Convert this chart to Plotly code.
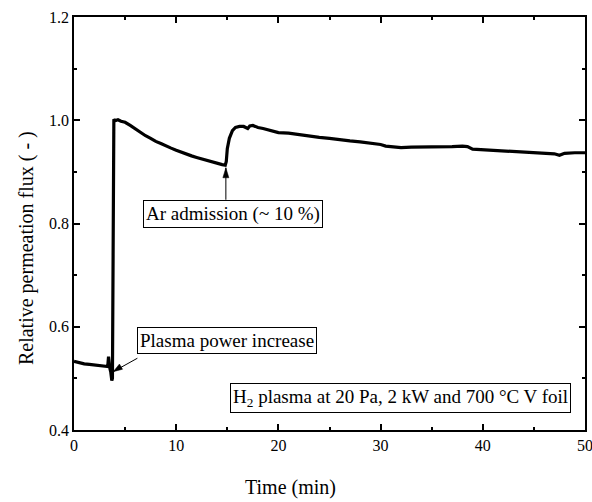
import plotly.graph_objects as go

# Data
time_min = [0, 0.5, 1, 1.5, 2, 2.5, 3, 3.3, 3.38, 3.42, 3.5, 3.6, 3.7, 3.76, 3.8, 3.84, 3.9, 4.0, 4.3, 4.6,
            5.0, 5.5, 6, 6.5, 7, 7.5, 8, 8.5, 9, 9.5, 10, 10.5, 11, 11.5, 12, 12.5, 13, 13.5, 14, 14.5,
            14.8, 14.9, 15.0, 15.2, 15.5, 15.8, 16.2, 16.6, 17.0, 17.2, 17.5, 18, 18.5, 19, 19.5, 20,
            21, 22, 23, 24, 25, 26, 27, 28, 29, 30, 30.5, 31, 32, 33, 34, 35, 36, 37, 38, 38.5,
            39, 40, 41, 42, 43, 44, 45, 46, 47, 47.5, 48, 49, 50]
rel_flux = [0.533, 0.530, 0.528, 0.527, 0.526, 0.525, 0.524, 0.523, 0.542, 0.522, 0.520, 0.512, 0.496, 0.500,
            0.750, 0.998, 1.002, 0.999, 1.001, 0.998,
            0.996, 0.990, 0.983, 0.977, 0.970, 0.965, 0.959, 0.955, 0.950, 0.946, 0.942, 0.938, 0.934,
            0.931, 0.928, 0.925, 0.922, 0.919, 0.917, 0.914,
            0.913, 0.920, 0.945, 0.965, 0.980, 0.986, 0.988, 0.988, 0.984, 0.989, 0.990, 0.986, 0.984,
            0.981, 0.978, 0.976,
            0.975, 0.972, 0.970, 0.967, 0.965, 0.962, 0.960, 0.958, 0.956, 0.953, 0.950, 0.949, 0.947,
            0.948, 0.948, 0.948, 0.949, 0.949, 0.950, 0.949,
            0.944, 0.943, 0.942, 0.941, 0.940, 0.939, 0.938, 0.936, 0.935, 0.932, 0.936, 0.937, 0.937]

x_ticks = [0, 10, 20, 30, 40, 50]
y_ticks = [0.4, 0.6, 0.8, 1.0, 1.2]

# annotation anchor points (time, flux)
ar_tip = (14.86, 0.908)
ar_tail = (14.86, 0.846)
plasma_tip = (3.84, 0.513)
plasma_tail = (6.2, 0.539)

FONT = "Liberation Serif"

fig = go.Figure()
fig.add_trace(go.Scatter(x=time_min, y=rel_flux, mode="lines",
                         line=dict(color="black", width=3.2), showlegend=False))

axis_common = dict(showline=True, linecolor="black", linewidth=1.5, mirror="allticks",
                   ticks="inside", ticklen=6, tickwidth=1.5, tickcolor="black",
                   showgrid=False, zeroline=False, automargin=False,
                   tickfont=dict(family=FONT, size=16, color="black"))

fig.update_xaxes(range=[0, 50], tickvals=x_ticks, ticktext=[str(v) for v in x_ticks],
                 ticklabeloverflow="allow",
                 minor=dict(ticks="inside", ticklen=3, tickwidth=1.5, dtick=5, tick0=0, tickcolor="black"),
                 **axis_common)
fig.update_yaxes(range=[0.4, 1.2], tickvals=y_ticks, ticktext=[f"{v:.1f}" for v in y_ticks],
                 minor=dict(ticks="inside", ticklen=3, tickwidth=1.5, dtick=0.1, tick0=0.4, tickcolor="black"),
                 **axis_common)

# arrows drawn as shapes: stem lines plus small filled heads (pixel-sized paths anchored at tip)
shapes = [
    dict(type="line", xref="x", yref="y", x0=ar_tail[0], y0=ar_tail[1], x1=ar_tip[0], y1=ar_tip[1],
         line=dict(color="black", width=1)),
    dict(type="path", xref="x", yref="y", xsizemode="pixel", ysizemode="pixel",
         xanchor=ar_tip[0], yanchor=ar_tip[1], path="M0,0 L-3,-10 L3,-10 Z",
         fillcolor="black", line=dict(color="black", width=0.5)),
    dict(type="line", xref="x", yref="y", x0=plasma_tail[0], y0=plasma_tail[1],
         x1=plasma_tip[0], y1=plasma_tip[1], line=dict(color="black", width=1)),
    dict(type="path", xref="x", yref="y", xsizemode="pixel", ysizemode="pixel",
         xanchor=plasma_tip[0], yanchor=plasma_tip[1], path="M0,0 L9.3,2.4 L6.2,7.6 Z",
         fillcolor="black", line=dict(color="black", width=0.5)),
]

box = dict(font=dict(family=FONT, size=19, color="black"), bordercolor="black", borderwidth=1,
           bgcolor="white", borderpad=2, showarrow=False)

annotations = [
    dict(x=6.77, y=0.846, xref="x", yref="y", xanchor="left", yanchor="top",
         text="Ar admission (~ 10 %)", **box),
    dict(x=6.19, y=0.600, xref="x", yref="y", xanchor="left", yanchor="top",
         text="Plasma power increase", **box),
    dict(x=48.65, y=0.491, xref="x", yref="y", xanchor="right", yanchor="top",
         text="H<sub>2</sub> plasma at 20 Pa, 2 kW and 700 °C V foil", **box),
    # axis titles
    dict(x=291, y=487, xref="paper", yref="paper", text="Time (min)", showarrow=False,
         font=dict(family=FONT, size=20, color="black")),
    dict(x=27, y=248, xref="paper", yref="paper", text="Relative permeation flux ( - )",
         textangle=-90, showarrow=False, font=dict(family=FONT, size=20, color="black")),
]

# convert pixel positions of axis titles to paper coordinates
L, R, T, B = 74, 6.5, 17, 72
W, H = 592, 502
pw, ph = W - L - R, H - T - B
for a in annotations:
    if a.get("xref") == "paper":
        a["x"] = (a["x"] - L) / pw
        a["y"] = 1 - (a["y"] - T) / ph
        a["xanchor"] = "center"
        a["yanchor"] = "middle"

fig.update_layout(width=W, height=H, margin=dict(l=L, r=R, t=T, b=B, autoexpand=False),
                  paper_bgcolor="white", plot_bgcolor="white",
                  annotations=annotations, shapes=shapes)

fig.write_html("out.html")
